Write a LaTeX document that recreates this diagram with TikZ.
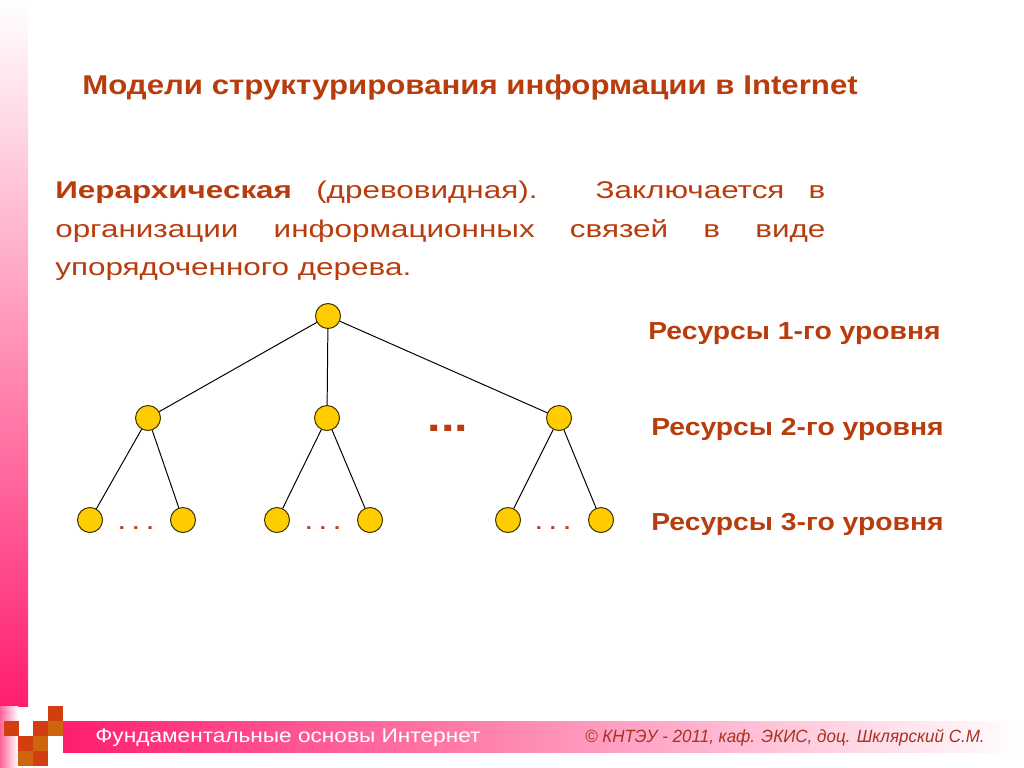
\documentclass[tikz,border=0pt]{standalone}
\usepackage{fontspec}
\setmainfont[FakeStretch=1.15]{Liberation Sans}
\newfontfamily\bodyfont[FakeStretch=1.3]{Liberation Sans}
\newfontfamily\copyfont[FakeStretch=0.96]{Liberation Sans}
\usepackage{tikz}
\usepackage{xcolor}
\definecolor{textred}{HTML}{B83C0C}
\definecolor{copyred}{HTML}{A83220}
\definecolor{barpink}{HTML}{FF1E6E}
\definecolor{nodefill}{HTML}{FFCC00}
\definecolor{nodeline}{HTML}{3A3000}
\definecolor{sqred}{HTML}{D23E10}
\definecolor{sqorange}{HTML}{CC650E}
\tikzset{
  every node/.style={inner sep=0pt},
  vertex/.style={circle,draw=nodeline,line width=0.7pt,fill=nodefill,minimum size=0.625cm},
  link/.style={draw=black,line width=0.7pt},
  title/.style={font=\fontsize{19.3}{23}\selectfont\bfseries,text=textred},
  body/.style={font=\bodyfont\fontsize{17.2}{27.2}\selectfont,text=textred,text width=19.25cm,align=justify},
  levelnote/.style={font=\fontsize{17.5}{20}\selectfont\bfseries,text=textred},
  smalldots/.style={font=\fontsize{13.5}{16}\selectfont\bfseries,text=textred},
  bigdots/.style={font=\fontsize{30}{32}\selectfont\bfseries,text=textred},
  foottext/.style={font=\fontsize{14}{16}\selectfont,text=white},
  copytext/.style={font=\copyfont\fontsize{12.6}{15}\selectfont\itshape,text=copyred},
}

\begin{document}
\begin{tikzpicture}[x=0.025cm,y=-0.025cm]
\useasboundingbox (0,0) rectangle (1024,768);
\fill[white] (0,0) rectangle (1024,768);

% frame: side bar, footer bar, squares
\shade[top color=white,bottom color=barpink] (0,0) rectangle (28,706);
\shade[left color=barpink!70,right color=white] (0,706) rectangle (18,768);
\shade[left color=barpink,middle color=barpink!45,right color=white] (63,721) rectangle (1024,752);
\foreach \x/\y/\c in {48/706/sqred,4/721/sqred,33/721/sqred,48/721/sqorange,
                      18/736/sqred,33/736/sqorange,18/751/sqorange,33/751/sqred}
  \fill[\c] (\x,\y) rectangle ++(15,15);

\node[title,anchor=base west] (title) at (82,95) {Модели структурирования информации в Internet};
\node[body,anchor=north west] (intro) at (55,181) {\textbf{Иерархическая} (древовидная). Заключается в\linebreak
организации информационных связей в виде\linebreak
упорядоченного дерева.};

% tree
\node[vertex] (root) at (328,316) {};
\node[vertex] (a) at (148,418) {};
\node[vertex] (b) at (327,418) {};
\node[vertex] (c) at (559,418) {};
\node[vertex] (a1) at (90,520) {};
\node[vertex] (a2) at (183,520) {};
\node[vertex] (b1) at (277,520) {};
\node[vertex] (b2) at (370,520) {};
\node[vertex] (c1) at (508,520) {};
\node[vertex] (c2) at (601,520) {};
\foreach \p/\q in {root/a,root/b,root/c,a/a1,a/a2,b/b1,b/b2,c/c1,c/c2}
  \draw[link] (\p) -- (\q);

\node[bigdots] (more) at (448,428) {...};
\node[smalldots] (amore) at (136,528) {. . .};
\node[smalldots] (bmore) at (323,528) {. . .};
\node[smalldots] (cmore) at (553,528) {. . .};

\node[levelnote,anchor=west] (lvl1) at (648,334) {Ресурсы 1-го уровня};
\node[levelnote,anchor=west] (lvl2) at (651,429) {Ресурсы 2-го уровня};
\node[levelnote,anchor=west] (lvl3) at (651,524) {Ресурсы 3-го уровня};

\node[foottext,anchor=west] (course) at (95,738) {Фундаментальные основы Интернет};
\node[copytext,anchor=east] (copy) at (985,738) {© КНТЭУ - 2011, каф. ЭКИС, доц. Шклярский С.М.};

\end{tikzpicture}
\end{document}
